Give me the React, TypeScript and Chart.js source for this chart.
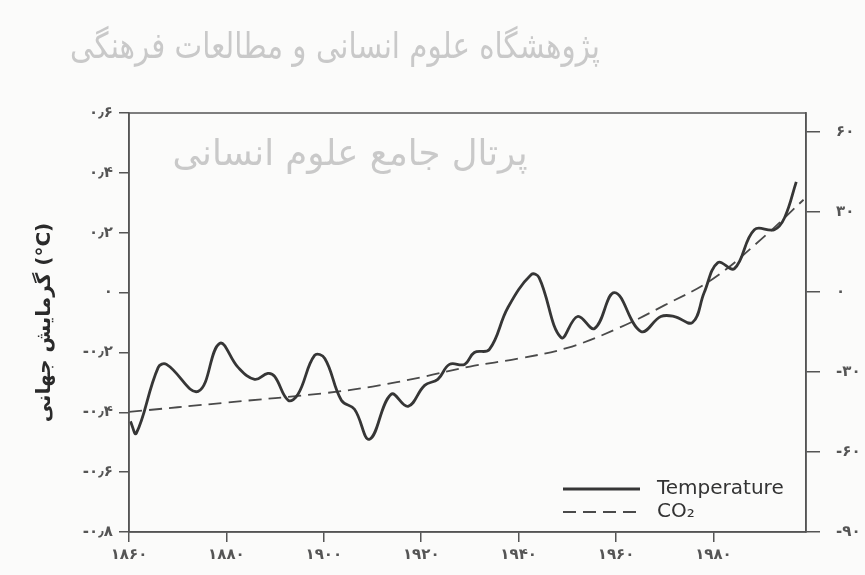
import React, { useEffect, useRef } from "react";
import { Chart, registerables } from "chart.js";

Chart.register(...registerables);

// ---- data ----
const tempYears = [
  1860.3, 1861.5, 1866, 1867.7, 1874.2, 1878.6, 1882.4, 1885.8, 1888.5, 1889.9,
  1892.7, 1894.7, 1898.1, 1900.2, 1903.6, 1906.3, 1909.4, 1913.8, 1917.3, 1920.7,
  1923.4, 1925.8, 1928.9, 1930.9, 1934, 1937.8, 1942.6, 1944.2, 1948.7, 1952.1,
  1955.6, 1959.7, 1965.1, 1969.2, 1972, 1975.7, 1978.1, 1980.9, 1984.3, 1988.4,
  1992.5, 1994.6, 1997,
];
const tempValues = [
  -0.43, -0.47, -0.25, -0.24, -0.33, -0.17, -0.25, -0.29, -0.27, -0.28,
  -0.36, -0.34, -0.21, -0.22, -0.36, -0.39, -0.49, -0.34, -0.38, -0.31,
  -0.29, -0.24, -0.24, -0.2, -0.19, -0.05, 0.06, 0.05, -0.15, -0.08,
  -0.12, 0.0, -0.13, -0.08, -0.08, -0.1, 0.0, 0.1, 0.08, 0.21,
  0.21, 0.25, 0.37,
];
const co2Years = [1860, 1880, 1900, 1910, 1920, 1930, 1940, 1950, 1960, 1970, 1980, 1990, 1998.5];
const co2Values = [-45, -41.5, -38, -35.5, -32, -28, -25, -21, -14, -5, 5, 20, 34.5];

const xTickYears = [1860, 1880, 1900, 1920, 1940, 1960, 1980];
const leftTicks = [0.6, 0.4, 0.2, 0, -0.2, -0.4, -0.6, -0.8];
const rightTicks = [60, 30, 0, -30, -60, -90];
const seriesNames = ["Temperature", "CO₂"];
const yTitle = "گرمایش جهانی (°C)";
const watermarkTop = "پژوهشگاه علوم انسانی و مطالعات فرهنگی";
const watermarkBottom = "پرتال جامع علوم انسانی";

const faDigits = "۰۱۲۳۴۵۶۷۸۹";
const fa = (s: string) => s.replace(/[0-9]/g, (d) => faDigits[+d]);
const fmtLeft = (v: number) => {
  if (Math.abs(v) < 1e-9) return "۰";
  return (v < 0 ? "-" : "") + fa(Math.abs(v).toFixed(1)).replace(".", "٫");
};
const fmtRight = (v: number) => (v < 0 ? "-" : "") + fa(String(Math.abs(v)));

const INK = "#363636";
const AXIS = "#555";

const extrasPlugin = {
  id: "extras",
  beforeDatasetsDraw(chart: any) {
    const ctx = chart.ctx;
    ctx.save();
    ctx.fillStyle = "#c9c9c9";
    ctx.textAlign = "center";
    ctx.textBaseline = "alphabetic";
    ctx.font = "36px 'DejaVu Sans'";
    ctx.fillText(watermarkTop, 335, 58, 530);
    ctx.fillText(watermarkBottom, 350, 165, 355);
    ctx.restore();
  },
  afterDatasetsDraw(chart: any) {
    const ctx = chart.ctx;
    const a = chart.chartArea;
    ctx.save();
    // frame
    ctx.strokeStyle = AXIS;
    ctx.lineWidth = 1.5;
    ctx.strokeRect(a.left, a.top, a.right - a.left, a.bottom - a.top);
    // legend inside plot
    const ds = chart.data.datasets;
    const rows = [a.bottom - 43, a.bottom - 20];
    ds.forEach((d: any, i: number) => {
      const y = rows[i];
      ctx.beginPath();
      ctx.strokeStyle = d.borderColor;
      ctx.lineWidth = d.borderWidth;
      ctx.setLineDash(d.borderDash || []);
      ctx.moveTo(a.left + 434, y);
      ctx.lineTo(a.left + 511, y);
      ctx.stroke();
      ctx.setLineDash([]);
      ctx.fillStyle = "#333";
      ctx.font = "20px 'DejaVu Sans'";
      ctx.textAlign = "left";
      ctx.textBaseline = "middle";
      ctx.fillText(d.label, a.left + 528, y);
    });
    ctx.restore();
  },
};

export default function App() {
  const ref = useRef<HTMLCanvasElement | null>(null);
  useEffect(() => {
    if (!ref.current) return;
    const tickFont = { family: "'DejaVu Sans'", size: 15, weight: "bold" as const };
    const chart = new Chart(ref.current, {
      type: "line",
      data: {
        datasets: [
          {
            label: seriesNames[0],
            data: tempYears.map((x, i) => ({ x, y: tempValues[i] })),
            borderColor: INK,
            borderWidth: 2.8,
            tension: 0.4,
            pointRadius: 0,
            yAxisID: "y",
          },
          {
            label: seriesNames[1],
            data: co2Years.map((x, i) => ({ x, y: co2Values[i] })),
            borderColor: "#4a4a4a",
            borderWidth: 1.8,
            borderDash: [13, 7],
            tension: 0.4,
            pointRadius: 0,
            yAxisID: "y2",
          },
        ],
      },
      plugins: [extrasPlugin],
      options: {
        animation: false,
        responsive: false,
        devicePixelRatio: 1,
        layout: { padding: { top: 113, left: 0, right: 0, bottom: 0 } },
        plugins: {
          legend: { display: false },
          tooltip: { enabled: false },
        },
        scales: {
          x: {
            type: "linear",
            min: 1860,
            max: 1999,
            afterBuildTicks: (s: any) => {
              s.ticks = xTickYears.map((v) => ({ value: v }));
            },
            afterFit: (s: any) => {
              s.height = 43;
            },
            ticks: {
              callback: (v: any) => fa(String(v)),
              font: tickFont,
              color: AXIS,
              padding: 4,
              maxRotation: 0,
              autoSkip: false,
            },
            grid: { drawOnChartArea: false, drawTicks: true, tickLength: 10, color: AXIS, lineWidth: 1.5 },
            border: { display: true, color: AXIS, width: 1.5 },
          },
          y: {
            type: "linear",
            position: "left",
            min: -0.8,
            max: 0.6,
            afterBuildTicks: (s: any) => {
              s.ticks = leftTicks.map((v) => ({ value: v }));
            },
            afterFit: (s: any) => {
              s.width = 129;
            },
            ticks: {
              callback: (v: any) => fmtLeft(Number(v)),
              font: tickFont,
              color: AXIS,
              padding: 6,
              autoSkip: false,
            },
            title: {
              display: true,
              text: yTitle,
              color: "#2a2a2a",
              font: { family: "'DejaVu Sans'", size: 20, weight: "bold" },
              padding: { top: 33, bottom: 0 },
            },
            grid: { drawOnChartArea: false, drawTicks: true, tickLength: 10, color: AXIS, lineWidth: 1.5 },
            border: { display: true, color: AXIS, width: 1.5 },
          },
          y2: {
            type: "linear",
            position: "right",
            min: -90,
            max: 67,
            afterBuildTicks: (s: any) => {
              s.ticks = rightTicks.map((v) => ({ value: v }));
            },
            afterFit: (s: any) => {
              s.width = 59;
            },
            ticks: {
              callback: (v: any) => fmtRight(Number(v)),
              font: tickFont,
              color: AXIS,
              padding: 16,
              autoSkip: false,
            },
            grid: { drawOnChartArea: false, drawTicks: true, tickLength: 14, color: AXIS, lineWidth: 1.5 },
            border: { display: true, color: AXIS, width: 1.5 },
          },
        },
      },
    } as any);
    return () => chart.destroy();
  }, []);
  return (
    <div
      style={{
        position: "fixed",
        left: 0,
        top: 0,
        width: 865,
        height: 575,
        background: "#fbfbfa",
      }}
    >
      <canvas ref={ref} width={865} height={575} />
    </div>
  );
}
